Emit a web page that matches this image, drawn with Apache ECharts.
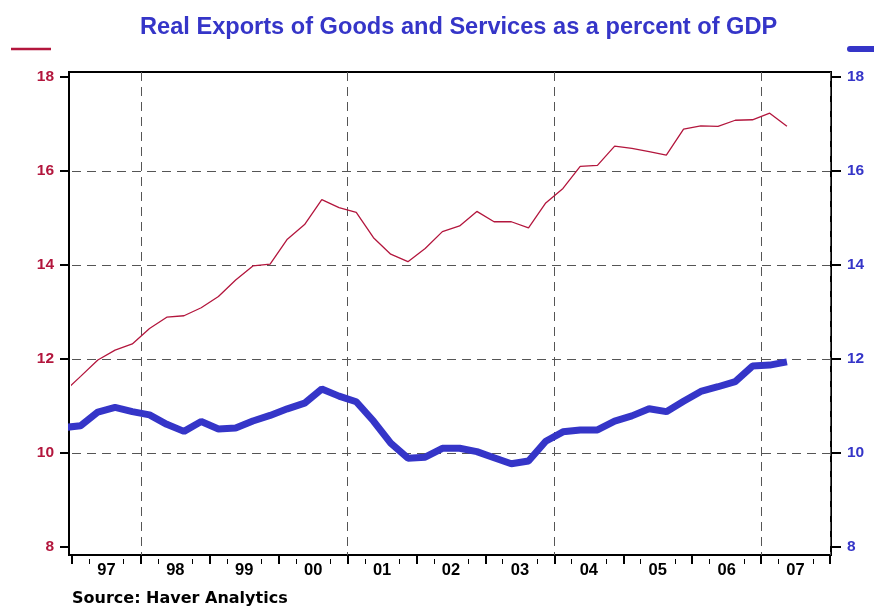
<!DOCTYPE html>
<html>
<head>
<meta charset="utf-8" />
<title>Real Exports of Goods and Services as a percent of GDP</title>
<script type="text/javascript" src="https://cdn.jsdelivr.net/npm/echarts@6/dist/echarts.min.js"></script>
</head>
<body style="margin:0;">
	<div id="chartmain" style="width: 874px; height: 607px;"></div>
	<script type="text/javascript">
		// quarters of the data, 1996Q4 is drawn clipped at the left edge
		var quarters = ['1996Q4',
			'1997Q1', '1997Q2', '1997Q3', '1997Q4', '1998Q1', '1998Q2', '1998Q3', '1998Q4',
			'1999Q1', '1999Q2', '1999Q3', '1999Q4', '2000Q1', '2000Q2', '2000Q3', '2000Q4',
			'2001Q1', '2001Q2', '2001Q3', '2001Q4', '2002Q1', '2002Q2', '2002Q3', '2002Q4',
			'2003Q1', '2003Q2', '2003Q3', '2003Q4', '2004Q1', '2004Q2', '2004Q3', '2004Q4',
			'2005Q1', '2005Q2', '2005Q3', '2005Q4', '2006Q1', '2006Q2', '2006Q3', '2006Q4',
			'2007Q1', '2007Q2'];
		// left axis (thin red)
		var leftSeries = [11.29,
			11.63, 11.98, 12.19, 12.32, 12.65, 12.89, 12.92, 13.09,
			13.33, 13.68, 13.98, 14.02, 14.55, 14.86, 15.39, 15.22,
			15.12, 14.58, 14.23, 14.07, 14.35, 14.71, 14.83, 15.14,
			14.92, 14.92, 14.79, 15.32, 15.63, 16.10, 16.12, 16.53,
			16.48, 16.41, 16.34, 16.89, 16.96, 16.95, 17.08, 17.09,
			17.23, 16.95];
		// right axis (thick blue)
		var rightSeries = [10.54,
			10.58, 10.87, 10.97, 10.88, 10.81, 10.61, 10.46, 10.67,
			10.51, 10.53, 10.68, 10.80, 10.94, 11.06, 11.36, 11.21,
			11.09, 10.68, 10.21, 9.89, 9.91, 10.10, 10.10, 10.03,
			9.90, 9.77, 9.83, 10.25, 10.45, 10.49, 10.49, 10.68,
			10.79, 10.94, 10.88, 11.10, 11.31, 11.41, 11.52, 11.85,
			11.87, 11.94];
		var yearLabels = ['97', '98', '99', '00', '01', '02', '03', '04', '05', '06', '07'];
		var firstYear = 1997;

		// quarter bands on the time axis, for ticks and grid lines
		var tickQuarters = [];
		for (var y = 0; y < yearLabels.length; y++) {
			for (var q = 1; q <= 4; q++) {
				tickQuarters.push(yearLabels[y] + 'Q' + q);
			}
		}

		// quarter label -> position at the middle of the quarter
		function toPoints(values) {
			return values.map(function (v, i) {
				var yr = parseInt(quarters[i].slice(0, 4), 10);
				var qt = parseInt(quarters[i].slice(5), 10);
				return [yr + (qt - 0.5) / 4, v];
			});
		}

		var red = '#b3163d';
		var blue = '#3535c8';
		var dashed = { color: '#555', type: [9, 6], width: 1 };

		var option = {
			animation: false,
			title: [{
				text: 'Real Exports of Goods and Services as a percent of GDP',
				left: 140,
				top: 15,
				padding: 0,
				textStyle: { color: blue, fontSize: 23.6, fontWeight: 'bold', fontFamily: 'Liberation Sans' }
			}, {
				text: 'Source: Haver Analytics',
				left: 72,
				top: 591,
				padding: 0,
				textStyle: { color: '#000', fontSize: 16, fontWeight: 'bold', fontFamily: 'DejaVu Sans' }
			}],
			graphic: [
				{ type: 'line', shape: { x1: 11, y1: 49, x2: 51, y2: 49 }, style: { stroke: red, lineWidth: 2.5 } },
				{ type: 'line', shape: { x1: 850, y1: 49, x2: 880, y2: 49 }, style: { stroke: blue, lineWidth: 6, lineCap: 'round' } }
			],
			grid: [
				// frame
				{ left: 69, right: 43, top: 72, bottom: 52, show: true, borderColor: '#000', borderWidth: 2 },
				// ticks and vertical grid lines
				{ left: 72, right: 44, top: 72, bottom: 52 },
				// data
				{ left: 72, right: 44, top: 77, bottom: 60 }
			],
			xAxis: [
				{ gridIndex: 0, type: 'value', show: false },
				{
					gridIndex: 1, type: 'category', position: 'bottom', data: tickQuarters, boundaryGap: true, offset: 4,
					axisLine: { show: false },
					axisTick: { show: true, length: 9, lineStyle: { color: '#000', width: 2 }, interval: function (i) { return i % 4 === 0; } },
					axisLabel: { show: false },
					splitLine: { show: true, interval: function (i) { return i % 12 === 4; }, lineStyle: dashed }
				},
				{
					gridIndex: 1, type: 'category', position: 'bottom', data: tickQuarters, boundaryGap: true, offset: 4,
					axisLine: { show: false },
					axisTick: { show: true, length: 5, lineStyle: { color: '#000', width: 1 }, interval: function (i) { return i % 2 === 1; } },
					axisLabel: { show: false },
					splitLine: { show: false }
				},
				{
					gridIndex: 1, type: 'category', position: 'bottom', data: yearLabels, boundaryGap: true, offset: 4,
					axisLine: { show: false },
					axisTick: { show: false },
					axisLabel: { show: true, interval: 0, margin: 3, color: '#000', fontSize: 16.5, fontWeight: 'bold', fontFamily: 'Liberation Sans' },
					splitLine: { show: false }
				},
				{ gridIndex: 2, type: 'value', min: firstYear, max: firstYear + yearLabels.length, show: false, splitLine: { show: false } }
			],
			yAxis: [
				{ gridIndex: 0, type: 'value', show: false },
				{ gridIndex: 1, type: 'value', show: false },
				{
					gridIndex: 2, type: 'value', position: 'left', min: 8, max: 18, interval: 2, offset: 3,
					axisLine: { show: false },
					axisTick: { show: true, length: 9, lineStyle: { color: '#000', width: 2 } },
					axisLabel: { margin: 15, color: red, fontSize: 15.5, fontWeight: 'bold', fontFamily: 'Liberation Sans' },
					splitLine: { show: true, showMinLine: false, showMaxLine: false, lineStyle: dashed }
				},
				{
					gridIndex: 2, type: 'value', position: 'right', min: 8, max: 18, interval: 2, offset: 1,
					axisLine: { show: false },
					axisTick: { show: true, length: 10, lineStyle: { color: '#000', width: 2 } },
					axisLabel: { margin: 16, color: blue, fontSize: 15.5, fontWeight: 'bold', fontFamily: 'Liberation Sans' },
					splitLine: { show: false }
				}
			],
			series: [{
				name: 'Exports, left',
				type: 'line',
				xAxisIndex: 4,
				yAxisIndex: 2,
				symbol: 'none',
				clip: true,
				lineStyle: { color: red, width: 1.3 },
				data: toPoints(leftSeries)
			}, {
				name: 'Exports, right',
				type: 'line',
				xAxisIndex: 4,
				yAxisIndex: 3,
				symbol: 'none',
				clip: true,
				lineStyle: { color: blue, width: 7 },
				data: toPoints(rightSeries)
			}]
		};

		var myChart = echarts.init(document.getElementById('chartmain'));
		myChart.setOption(option);
	</script>
</body>
</html>
